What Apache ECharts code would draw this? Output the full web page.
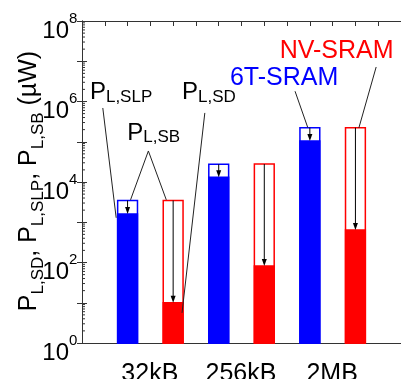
<!DOCTYPE html>
<html><head><meta charset="utf-8">
<script src="https://cdn.jsdelivr.net/npm/echarts@6/dist/echarts.min.js"></script>
<style>html,body{margin:0;padding:0;background:#fff}#c{width:401px;height:379px}</style>
</head><body><div id="c"></div>
<script>
// ---- data (µW) ----
const categories = ['32kB', '256kB', '2MB'];
const sramStandby = [3470, 27500, 224000];   // 6T-SRAM P_L,SB (outlined bar top)
const sramSleep = [1600, 13100, 104000];     // 6T-SRAM P_L,SLP (filled part)
const nvStandby = [3470, 28000, 224000];     // NV-SRAM P_L,SB (outlined bar top)
const nvShutdown = [10, 82, 643];            // NV-SRAM P_L,SD (filled part)
const yTickExponents = [0, 2, 4, 6, 8];

const FONT = 'Liberation Sans, Arial, sans-serif';
const BLUE = '#0000ff', RED = '#ff0000';

// annotation layout (data coordinates: x in slot units, y in µW)
const annotations = [
  {main: 'P', sub: 'L,SLP', color: '#000', at: [0.348, 1.64e6], lines: [[[0.913, 6.9e5], [1.50, 1290]]]},
  {main: 'P', sub: 'L,SB', color: '#000', at: [1.99, 1.65e5], lines: [[[2.13, 3600], [2.913, 5.9e4], [3.70, 3600]]]},
  {main: 'P', sub: 'L,SD', color: '#000', at: [4.39, 1.67e6], lines: [[[5.39, 5.2e5], [4.39, 5.6]]]},
  {main: '6T-SRAM', sub: '', color: BLUE, at: [6.49, 3.82e6], lines: [[[9.35, 1.8e6], [9.91, 2.24e5]]]},
  {main: 'NV-SRAM', sub: '', color: RED, at: [8.675, 1.74e7], lines: [[[12.91, 7.2e6], [12.15, 2.2e5]]]}
];

// log-axis minor tick positions (axis decoration)
const minorTickValues = [];
for (let e = 0; e < 8; e++) for (let k = 2; k <= 9; k++) minorTickValues.push(k * Math.pow(10, e));

function barSeries(name, totals, fills, offset, color) {
  return {
    name, type: 'custom', coordinateSystem: 'cartesian2d', xAxisIndex: 0, yAxisIndex: 0,
    data: categories.map((c, i) => [3 + 4 * i + offset, totals[i], fills[i]]),
    encode: {x: 0, y: [1, 2]},
    renderItem(params, api) {
      const x = api.value(0), tot = api.value(1), fil = api.value(2);
      const base = api.coord([x, 1]), top = api.coord([x, tot]), mid = api.coord([x, fil]);
      const w = api.size([1, 0])[0] * 0.87, cx = base[0];
      return {type: 'group', children: [
        {type: 'rect', shape: {x: cx - w / 2, y: top[1], width: w, height: base[1] - top[1]}, style: {fill: '#fff', stroke: color, lineWidth: 1.5}},
        {type: 'rect', shape: {x: cx - w / 2, y: mid[1], width: w, height: base[1] - mid[1]}, style: {fill: color, stroke: color, lineWidth: 1.5}},
        {type: 'line', shape: {x1: cx, y1: top[1], x2: cx, y2: mid[1] - 5}, style: {stroke: '#000', lineWidth: 1}},
        {type: 'polygon', shape: {points: [[cx - 2.5, mid[1] - 7], [cx + 2.5, mid[1] - 7], [cx, mid[1]]]}, style: {fill: '#000'}}
      ]};
    }
  };
}

const annotationSeries = {
  type: 'custom', coordinateSystem: 'cartesian2d', xAxisIndex: 0, yAxisIndex: 0,
  data: annotations.map((a, i) => [a.at[0], a.at[1], i]), encode: {x: 0, y: 1}, z: 5,
  renderItem(params, api) {
    const a = annotations[api.value(2)], p = api.coord(a.at), children = [];
    a.lines.forEach(l => children.push({type: 'polyline', shape: {points: l.map(pt => api.coord(pt))},
      style: {stroke: '#222', lineWidth: 1, fill: null}}));
    const big = a.sub ? 24 : 25;
    children.push({type: 'text', x: p[0], y: p[1], style: {text: a.main, fill: a.color,
      font: big + 'px ' + FONT, textAlign: 'left', verticalAlign: 'middle'}});
    if (a.sub) children.push({type: 'text', x: p[0] + 16, y: p[1] + 4.7, style: {text: a.sub, fill: a.color,
      font: '17px ' + FONT, textAlign: 'left', verticalAlign: 'middle'}});
    return {type: 'group', children};
  }
};

// y tick labels 10^n drawn at the axis ticks
const yLabelSeries = {
  type: 'custom', coordinateSystem: 'cartesian2d', xAxisIndex: 0, yAxisIndex: 0,
  data: yTickExponents.map(e => [0, Math.pow(10, e), e]), encode: {x: 0, y: 1}, z: 6, silent: true,
  renderItem(params, api) {
    const p = api.coord([0, api.value(1)]);
    return {type: 'group', children: [
      {type: 'text', x: p[0] - 13, y: p[1] + 10, style: {text: '10', fill: '#000', font: '24px ' + FONT, textAlign: 'right', verticalAlign: 'middle'}},
      {type: 'text', x: p[0] - 13, y: p[1] - 2.6, style: {text: String(api.value(2)), fill: '#000', font: '15px ' + FONT, textAlign: 'left', verticalAlign: 'middle'}}
    ]};
  }
};

// category labels under the bars
const xLabelSeries = {
  type: 'custom', coordinateSystem: 'cartesian2d', xAxisIndex: 0, yAxisIndex: 0,
  data: categories.map((c, i) => [3 + 4 * i, 1, i]), encode: {x: 0, y: 1}, z: 6, silent: true,
  renderItem(params, api) {
    const p = api.coord([api.value(0), 1]);
    return {type: 'text', x: p[0] - 0.5, y: p[1] + 30.7, style: {text: categories[api.value(2)], fill: '#000',
      font: '25px ' + FONT, textAlign: 'center', verticalAlign: 'middle'}};
  }
};

const minorTickSeries = {
  type: 'custom', coordinateSystem: 'cartesian2d', xAxisIndex: 0, yAxisIndex: 0,
  data: minorTickValues.map(v => [0, v]), encode: {x: 0, y: 1}, z: 6, silent: true,
  renderItem(params, api) {
    const p = api.coord([0, api.value(1)]);
    return {type: 'line', shape: {x1: p[0], y1: p[1], x2: p[0] + 3, y2: p[1]}, style: {stroke: '#333', lineWidth: 1}};
  }
};

const chart = echarts.init(document.getElementById('c'), null, {renderer: 'canvas'});
chart.setOption({
  animation: false, backgroundColor: '#fff',
  grid: {left: 82, top: 21, width: 322, height: 322, containLabel: false},
  xAxis: [
    {type: 'value', min: 0, max: 14, interval: 1, position: 'bottom',
      axisLine: {show: true, lineStyle: {color: '#333', width: 1}}, axisTick: {show: false}, splitLine: {show: false}, axisLabel: {show: false}},
    {type: 'value', min: 0, max: 14, interval: 1, position: 'top',
      axisLine: {show: true, lineStyle: {color: '#333', width: 1}},
      axisTick: {show: true, inside: true, length: 5, lineStyle: {color: '#333'}}, axisLabel: {show: false}, splitLine: {show: false}}
  ],
  yAxis: [
    {type: 'log', logBase: 10, min: 1, max: 1e8, interval: 1, splitNumber: 8, position: 'left',
      axisLine: {show: true, lineStyle: {color: '#333', width: 1}},
      axisTick: {show: true, inside: true, length: 5, lineStyle: {color: '#333'}},
      minorTick: {show: false}, splitLine: {show: false}, axisLabel: {show: false}},
    {type: 'log', logBase: 10, min: 1, max: 1e8, interval: 1, splitNumber: 8, position: 'right',
      axisLine: {show: true, lineStyle: {color: '#333', width: 1}},
      axisTick: {show: true, inside: true, length: 5, lineStyle: {color: '#333'}}, axisLabel: {show: false}, splitLine: {show: false}}
  ],
  graphic: [{
    type: 'text', x: 33.5, y: 181, rotation: Math.PI / 2,
    style: {
      text: '{p|P}{s|L,SD}{p|, P}{s|L,SLP}{p|, P}{s|L,SB}{p| (µW)}',
      textAlign: 'center', verticalAlign: 'middle', fill: '#000',
      rich: {
        p: {fontSize: 25, fontFamily: FONT, verticalAlign: 'top', lineHeight: 34, fill: '#000'},
        s: {fontSize: 17, fontFamily: FONT, verticalAlign: 'top', padding: [13, 0, 0, 0], fill: '#000'}
      }
    }
  }],
  series: [
    barSeries('6T-SRAM', sramStandby, sramSleep, -1, BLUE),
    barSeries('NV-SRAM', nvStandby, nvShutdown, 1, RED),
    annotationSeries, yLabelSeries, xLabelSeries, minorTickSeries
  ]
});
</script>
</body></html>
